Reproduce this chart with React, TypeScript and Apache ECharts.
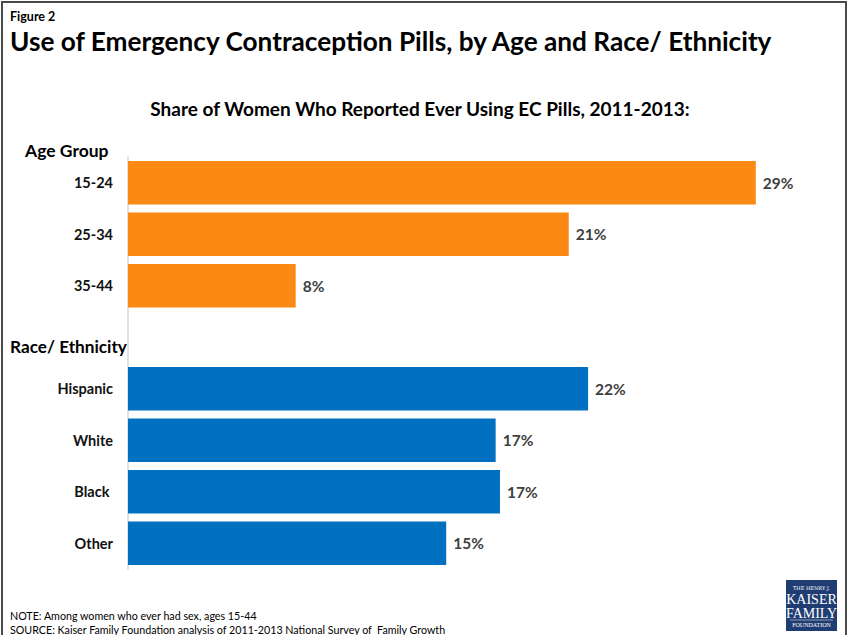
import React, { useEffect, useRef } from "react";
import * as echarts from "echarts";

const ageCategories = ["15-24", "25-34", "35-44"];
const ageValues = [29.2, 20.5, 7.8];
const ageLabels = ["29%", "21%", "8%"];

const raceCategories = ["Hispanic", "White", "Black ", "Other"];
const raceValues = [21.4, 17.1, 17.3, 14.8];
const raceLabels = ["22%", "17%", "17%", "15%"];

const ORANGE = "#FA8A13";
const BLUE = "#0070C0";
const FONT = "Lato, 'Open Sans', sans-serif";

export default function App() {
  const ref = useRef<HTMLDivElement>(null);

  useEffect(() => {
    if (!ref.current) return;
    const chart = echarts.init(ref.current, null, { renderer: "svg" });

    const categories = [...ageCategories, "", ...raceCategories];
    const data: any[] = [
      ...ageValues.map((v, i) => ({ value: v, label: ageLabels[i], itemStyle: { color: ORANGE } })),
      { value: null, label: "" },
      ...raceValues.map((v, i) => ({ value: v, label: raceLabels[i], itemStyle: { color: BLUE } })),
    ];

    chart.setOption({
      animation: false,
      backgroundColor: "#ffffff",
      textStyle: { fontFamily: FONT },
      grid: { left: 128, top: 157, width: 645, height: 412, containLabel: false },
      xAxis: {
        type: "value",
        min: 0,
        max: 30,
        show: false,
      },
      yAxis: {
        type: "category",
        inverse: true,
        data: categories,
        axisLine: { show: true, lineStyle: { color: "#d9d9d9", width: 1.5 } },
        axisTick: { show: false },
        axisLabel: {
          margin: 15,
          fontFamily: FONT,
          fontWeight: "bold",
          fontSize: 14.5,
          color: "#111111",
        },
      },
      series: [
        {
          type: "bar",
          data,
          barCategoryGap: "16%",
          label: {
            show: true,
            position: "right",
            distance: 7,
            fontFamily: FONT,
            fontWeight: "bold",
            fontSize: 15.5,
            color: "#404040",
            formatter: (p: any) => (p.data && p.data.label) || "",
          },
        },
      ],
      graphic: [
        {
          type: "rect",
          shape: { x: 2, y: 2, width: 844, height: 640 },
          style: { fill: "none", stroke: "#4a4a4a", lineWidth: 2 },
          silent: true,
        },
        {
          type: "text",
          left: 10,
          top: 10,
          style: { text: "Figure 2", fontFamily: FONT, fontWeight: "bold", fontSize: 12.5, fill: "#000" },
        },
        {
          type: "text",
          left: 10,
          top: 28,
          style: {
            text: "Use of Emergency Contraception Pills, by Age and Race/ Ethnicity",
            fontFamily: FONT,
            fontWeight: "bold",
            fontSize: 26.2,
            fill: "#000",
          },
        },
        {
          type: "text",
          x: 420,
          y: 108,
          style: {
            text: "Share of Women Who Reported Ever Using EC Pills, 2011-2013:",
            fontFamily: FONT,
            fontWeight: "bold",
            fontSize: 19,
            fill: "#000",
            align: "center",
            verticalAlign: "middle",
          },
        },
        {
          type: "text",
          x: 25,
          y: 150,
          style: { text: "Age Group", fontFamily: FONT, fontWeight: "bold", fontSize: 17.5, fill: "#000", verticalAlign: "middle" },
        },
        {
          type: "text",
          x: 10,
          y: 346,
          style: { text: "Race/ Ethnicity", fontFamily: FONT, fontWeight: "bold", fontSize: 17.2, fill: "#000", verticalAlign: "middle" },
        },
        {
          type: "text",
          x: 10,
          y: 615,
          style: { text: "NOTE: Among women who ever had sex, ages 15-44", fontFamily: FONT, fontSize: 10.7, fill: "#000", verticalAlign: "middle" },
        },
        {
          type: "text",
          x: 10,
          y: 629,
          style: {
            text: "SOURCE: Kaiser Family Foundation analysis of 2011-2013 National Survey of  Family Growth",
            fontFamily: FONT,
            fontSize: 10.7,
            fill: "#000",
            verticalAlign: "middle",
          },
        },
        {
          type: "group",
          x: 786,
          y: 580,
          children: [
            { type: "rect", shape: { x: 0, y: 0, width: 51, height: 51 }, style: { fill: "#1F3D73" } },
            {
              type: "text",
              x: 25.5,
              y: 5,
              style: { text: "THE HENRY J.", fontFamily: "'DejaVu Serif', serif", fontSize: 5, fill: "#fff", align: "center" },
            },
            {
              type: "text",
              x: 25.5,
              y: 12,
              style: { text: "KAISER", fontFamily: "'Liberation Serif', serif", fontSize: 14, fill: "#fff", align: "center" },
            },
            {
              type: "text",
              x: 25.5,
              y: 26,
              style: { text: "FAMILY", fontFamily: "'Liberation Serif', serif", fontSize: 14, fill: "#fff", align: "center" },
            },
            { type: "line", shape: { x1: 4, y1: 40, x2: 47, y2: 40 }, style: { stroke: "#fff", lineWidth: 0.5 } },
            {
              type: "text",
              x: 25.5,
              y: 42,
              style: { text: "FOUNDATION", fontFamily: "'Liberation Serif', serif", fontSize: 6, fill: "#fff", align: "center" },
            },
          ],
        },
      ],
    });

    return () => chart.dispose();
  }, []);

  return (
    <div
      ref={ref}
      style={{ position: "fixed", left: 0, top: 0, width: 851, height: 635, background: "#fff" }}
    />
  );
}
